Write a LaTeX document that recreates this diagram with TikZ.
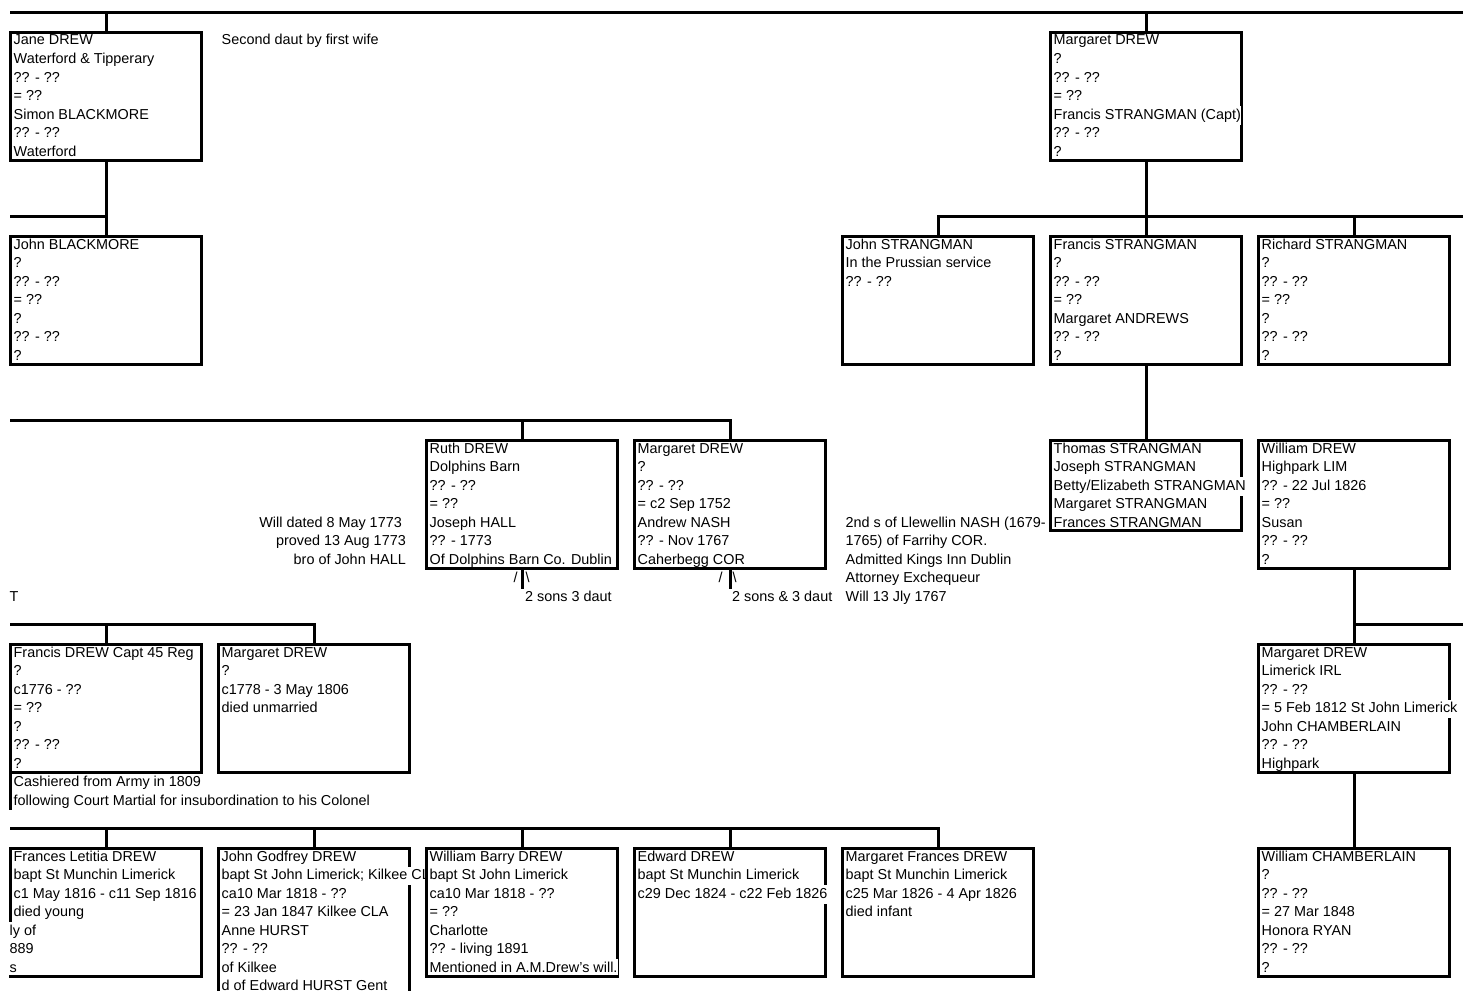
\documentclass[tikz,border=0pt]{standalone}
\usepackage{fontspec}
\setmainfont{Liberation Sans}
\tikzset{
  famfill/.style={rectangle, fill=white, draw=none, minimum width=191pt, inner sep=0pt, outer sep=0pt},
  famline/.style={line width=3pt, black},
  famtext/.style={anchor=base west, fill=white, inner xsep=0.5pt, inner ysep=0pt, text height=13pt, text depth=5.5pt},
  note/.style={anchor=base west, inner sep=0pt},
  noteR/.style={anchor=base east, inner sep=0pt},
  conn/.style={line width=3pt, line join=miter},
}
% #1 name, #2 left, #3 top, #4 height, #5 lines
\newcommand\fambox[5]{%
  \node[famfill, minimum height=#4pt, anchor=north west] (#1) at (#2,#3) {};
  \draw[famline] (#1.north west) -- (#1.south west) (#1.north east) -- (#1.south east);
  \foreach \rowtext [count=\rowi from 0] in {#5} {
    \node[famtext] (#1l\rowi) at ([xshift=2.5pt, yshift=-12.5pt-\rowi*18.5pt]#1.north west) {\rowtext};
  }
  \draw[famline, line cap=rect] (#1.north west) -- (#1.north east) (#1.south west) -- (#1.south east);
}
\begin{document}
\begin{tikzpicture}[x=1pt, y=-1pt, font=\fontsize{14.4pt}{18.5pt}\selectfont]
\useasboundingbox (0,0) rectangle (1463,990);
\clip (0,0) rectangle (1463,990);

% ---- row 1
\fambox{A}{10.5}{32.5}{128}{Jane DREW,Waterford \& Tipperary,?? - ??,= ??,Simon BLACKMORE,?? - ??,Waterford}
\fambox{B}{1050.5}{32.5}{128}{Margaret DREW,?,?? - ??,= ??,Francis STRANGMAN (Capt),?? - ??,?}
\node[note] (n1) at (221.5,45) {Second daut by first wife};

% ---- row 2
\fambox{C}{10.5}{236.5}{128}{John BLACKMORE,?,?? - ??,= ??,?,?? - ??,?}
\fambox{D}{842.5}{236.5}{128}{John STRANGMAN,In the Prussian service,?? - ??}
\fambox{E}{1050.5}{236.5}{128}{Francis STRANGMAN,?,?? - ??,= ??,Margaret ANDREWS,?? - ??,?}
\fambox{F}{1258.5}{236.5}{128}{Richard STRANGMAN,?,?? - ??,= ??,?,?? - ??,?}

% ---- row 3
\fambox{G}{426.5}{440.5}{128}{Ruth DREW,Dolphins Barn,?? - ??,= ??,Joseph HALL,?? - 1773,Of Dolphins Barn Co. Dublin}
\fambox{H}{634.5}{440.5}{128}{Margaret DREW,?,?? - ??,= c2 Sep 1752,Andrew NASH,?? - Nov 1767,Caherbegg COR}
\fambox{I}{1050.5}{440.5}{90}{Thomas STRANGMAN,Joseph STRANGMAN,{Betty/Elizabeth STRANGMAN},Margaret STRANGMAN,Frances STRANGMAN}
\fambox{J}{1258.5}{440.5}{128}{William DREW,Highpark LIM,?? - 22 Jul 1826,= ??,Susan,?? - ??,?}

\node[noteR] (w1) at (402,527) {Will dated 8 May 1773};
\node[noteR] (w2) at (406,545.5) {proved 13 Aug 1773};
\node[noteR] (w3) at (406,564) {bro of John HALL};
\node[note] (a1) at (845.5,527) {2nd s of Llewellin NASH (1679-};
\node[note] (a2) at (845.5,545.5) {1765) of Farrihy COR.};
\node[note] (a3) at (845.5,564) {Admitted Kings Inn Dublin};
\node[note] (a4) at (845.5,582.5) {Attorney Exchequeur};
\node[note] (a5) at (845.5,601) {Will 13 Jly 1767};
\node[note] (s1) at (513.5,582.5) {/};
\node[note] (s2) at (525.5,582.5) {\textbackslash};
\node[note] (s3) at (525,601) {2 sons 3 daut};
\node[note] (s4) at (718.5,582.5) {/};
\node[note] (s5) at (732.5,582.5) {\textbackslash};
\node[note] (s6) at (732,601) {2 sons \& 3 daut};
\node[note] (tt) at (9.5,601) {T};

% ---- row 4
\fambox{K}{10.5}{644.5}{128}{Francis DREW Capt 45 Reg,?,c1776 - ??,= ??,?,?? - ??,?}
\node[famtext] (k7) at ([xshift=2.5pt, yshift=-142pt]K.north west) {Cashiered from Army in 1809};
\node[famtext] (k8) at ([xshift=2.5pt, yshift=-160.5pt]K.north west) {following Court Martial for insubordination to his Colonel};
\fambox{L}{218.5}{644.5}{128}{Margaret DREW,?,c1778 - 3 May 1806,died unmarried}
\fambox{M}{1258.5}{644.5}{128}{Margaret DREW,Limerick IRL,?? - ??,= 5 Feb 1812 St John Limerick,John CHAMBERLAIN,?? - ??,Highpark}

% ---- row 5
\fambox{N}{10.5}{848.5}{128}{Frances Letitia DREW,bapt St Munchin Limerick,c1 May 1816 - c11 Sep 1816,died young}
\node[famtext] (o1) at (9,935) {ly of};
\node[famtext] (o2) at (9,953.5) {889};
\node[famtext, text depth=2.5pt] (o3) at (9,972) {s};
\fambox{O}{218.5}{848.5}{170}{John Godfrey DREW,bapt St John Limerick; Kilkee CLA,ca10 Mar 1818 - ??,= 23 Jan 1847 Kilkee CLA,Anne HURST,?? - ??,of Kilkee,d of Edward HURST Gent}
\fambox{P}{426.5}{848.5}{128}{William Barry DREW,bapt St John Limerick,ca10 Mar 1818 - ??,= ??,Charlotte,?? - living 1891,Mentioned in A.M.Drew's will.}
\fambox{Q}{634.5}{848.5}{128}{Edward DREW,bapt St Munchin Limerick,c29 Dec 1824 - c22 Feb 1826}
\fambox{R}{842.5}{848.5}{128}{Margaret Frances DREW,bapt St Munchin Limerick,c25 Mar 1826 - 4 Apr 1826,died infant}
\fambox{S}{1258.5}{848.5}{128}{William CHAMBERLAIN,?,?? - ??,= 27 Mar 1848,Honora RYAN,?? - ??,?}

% ---- connectors
\coordinate (tL) at (10,12.5);
\coordinate (tR) at (1463,12.5);
\draw[conn] (tL) -- (tR);
\draw[conn] (A.north) -- (A.north |- tL);
\draw[conn] (B.north) -- (B.north |- tL);

\coordinate (aL) at (10,216.5);
\draw[conn] (aL) -- (C.north |- aL);
\draw[conn] (A.south) -- (C.north);
\coordinate (bR) at (1463,216.5);
\draw[conn] (D.north) -- (D.north |- bR) -- (bR);
\draw[conn] (B.south) -- (E.north);
\draw[conn] (F.north) -- (F.north |- bR);

\coordinate (gL) at (10,420.5);
\draw[conn] (gL) -- (H.north |- gL) -- (H.north);
\draw[conn] (G.north) -- (G.north |- gL);
\draw[conn] (E.south) -- (I.north);
\coordinate (gS) at ([yshift=-20.5pt]G.south);
\coordinate (hS) at ([yshift=-20.5pt]H.south);
\draw[conn] (G.south) -- (gS);
\draw[conn] (H.south) -- (hS);

\coordinate (kL) at (10,624.5);
\draw[conn] (kL) -- (L.north |- kL) -- (L.north);
\draw[conn] (K.north) -- (K.north |- kL);
\coordinate (mR) at (1463,624.5);
\draw[conn] (J.south) -- (M.north);
\draw[conn] (M.north |- mR) -- (mR);
\coordinate (kC) at (10.5,810);
\draw[conn] (K.south west) -- (kC);

\coordinate (nL) at (10,828.5);
\draw[conn] (nL) -- (R.north |- nL) -- (R.north);
\draw[conn] (N.north) -- (N.north |- nL);
\draw[conn] (O.north) -- (O.north |- nL);
\draw[conn] (P.north) -- (P.north |- nL);
\draw[conn] (Q.north) -- (Q.north |- nL);
\draw[conn] (M.south) -- (S.north);
\end{tikzpicture}
\end{document}
